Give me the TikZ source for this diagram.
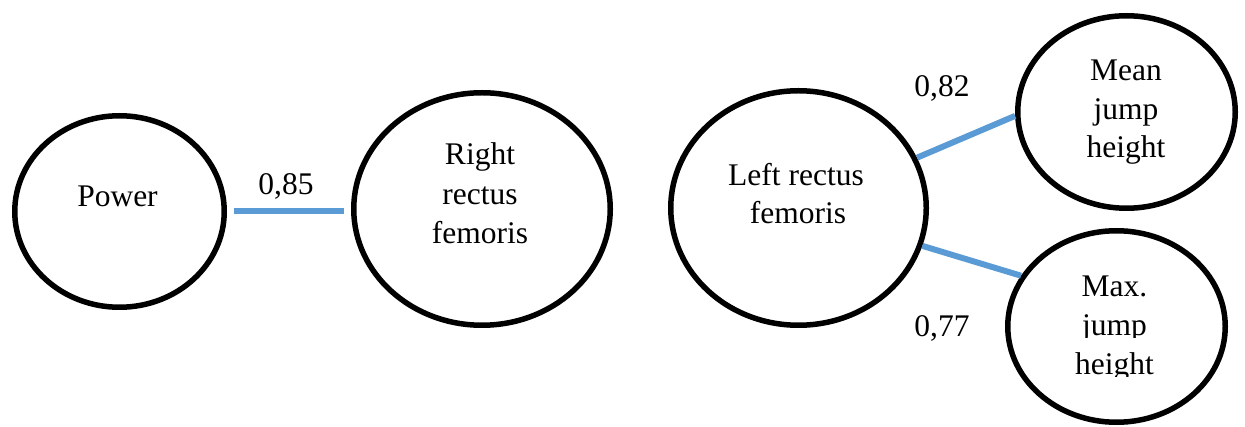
\documentclass[tikz,border=0pt]{standalone}
\usepackage{fontspec}
\setmainfont{Liberation Serif}
\usetikzlibrary{shapes.geometric}

\definecolor{linkblue}{HTML}{5B9BD5}

\tikzset{
  var/.style={draw=black, line width=5.5pt, ellipse, inner sep=0pt, fill=white},
  txt/.style={anchor=base, inner sep=0pt, font=\fontsize{31.5}{39}\selectfont},
  link/.style={draw=linkblue, line width=6pt},
}

\begin{document}
\begin{tikzpicture}[x=1pt, y=-1pt]
  \useasboundingbox (0,0) rectangle (1245,427);

  % variables
  \node[var, minimum width=209.5pt, minimum height=191.5pt] (Power) at (119.5,211.5) {};
  \node[var, minimum width=256.5pt, minimum height=232.5pt] (Right) at (482,209) {};
  \node[var, minimum width=255.5pt, minimum height=234.5pt] (Left)  at (798.5,208) {};
  \node[var, minimum width=217.5pt, minimum height=192.5pt] (Mean)  at (1126.5,112) {};
  \node[var, minimum width=217.5pt, minimum height=191.5pt] (Max)   at (1116.5,326.5) {};

  % variable names
  \node[txt] (pw)  at (117.5,207) {Power};
  \node[txt] (r1)  at (480,165) {Right};
  \node[txt] (r2)  at (480,205) {rectus};
  \node[txt] (r3)  at (480,244) {femoris};
  \node[txt] (l1)  at (796,186) {Left rectus};
  \node[txt] (l2)  at (798,224) {femoris};
  \node[txt] (m1)  at (1126,81) {Mean};
  \node[txt] (m2)  at (1126,120) {jump};
  \node[txt] (m3)  at (1126,158) {height};
  \node[txt] (x1)  at (1114.5,297) {Max.};
  \begin{scope}
    \clip (1050,300) rectangle (1180,338);
    \node[txt] (x2) at (1114.5,336) {jump};
  \end{scope}
  \begin{scope}
    \clip (1050,340) rectangle (1180,377);
    \node[txt] (x3) at (1114.5,375) {height};
  \end{scope}

  % correlations
  \draw[link, shorten <=6.75pt, shorten >=6.75pt] (Power.east) -- (Power.east -| Right.west);
  \draw[link] (Left.23.6) -- (Mean.182.6);
  \draw[link] (Left.-17.5) -- (Max.152.1);

  \node[txt] (c1) at (286,195) {0,85};
  \node[txt] (c2) at (942,97)  {0,82};
  \node[txt] (c3) at (942,337) {0,77};
\end{tikzpicture}
\end{document}
